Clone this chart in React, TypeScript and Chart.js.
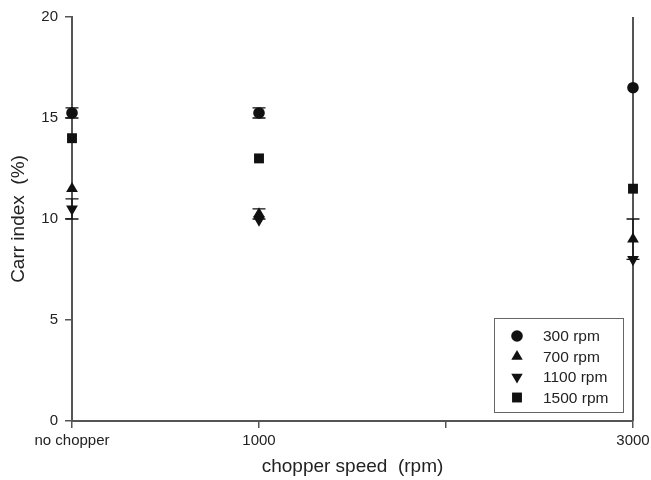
import React, { useEffect, useRef } from 'react';
import { Chart, registerables } from 'chart.js';
Chart.register(...registerables);

// x positions: chopper speed (rpm), 0 = "no chopper"
const chopperSpeeds = [0, 1000, 3000];
const xTickValues = [0, 1000, 2000, 3000];
const xTickLabels = ['no chopper', '1000', '', '3000'];
const yTickValues = [0, 5, 10, 15, 20];

const seriesLabels = ['300 rpm', '700 rpm', '1100 rpm', '1500 rpm'];
const carr300 = [15.25, 15.25, 16.5];
const err300 = [0.25, 0.25, 0];
const carr700 = [11.5, 10.25, 9.0];
const err700 = [0, 0.25, 1.0];
const carr1100 = [10.5, 9.95, 8.0];
const err1100 = [0.5, 0, 0];
const carr1500 = [14.0, 13.0, 11.5];
const err1500 = [0, 0, 0];

const FONT = "'Liberation Sans', Arial, sans-serif";
const AXIS = '#555555';
const TEXT = '#222222';
const MARK = '#111111';

const styles = [
  { pointStyle: 'circle', radius: 5.8, rotation: 0 },
  { pointStyle: 'triangle', radius: 6.8, rotation: 0 },
  { pointStyle: 'triangle', radius: 6.8, rotation: 180 },
  { pointStyle: 'rect', radius: 7, rotation: 0 },
];
const seriesValues = [carr300, carr700, carr1100, carr1500];
const seriesErrors = [err300, err700, err1100, err1500];

function drawMarker(ctx: CanvasRenderingContext2D, kind: number, x: number, y: number) {
  ctx.beginPath();
  if (kind === 0) {
    ctx.arc(x, y, 5.8, 0, Math.PI * 2);
  } else if (kind === 3) {
    const s = 7 * Math.SQRT1_2;
    ctx.rect(x - s, y - s, 2 * s, 2 * s);
  } else {
    const r = 6.6;
    const dir = kind === 1 ? -1 : 1;
    ctx.moveTo(x, y + dir * r);
    ctx.lineTo(x + r * Math.sin(Math.PI * 2 / 3), y - dir * r * 0.5);
    ctx.lineTo(x - r * Math.sin(Math.PI * 2 / 3), y - dir * r * 0.5);
    ctx.closePath();
  }
  ctx.fillStyle = MARK;
  ctx.fill();
}

const framePlugin = {
  id: 'frameAndErrors',
  beforeDatasetsDraw(chart: any) {
    const { ctx, chartArea, scales } = chart;
    ctx.save();
    ctx.strokeStyle = AXIS;
    ctx.lineWidth = 2;
    ctx.beginPath();
    ctx.moveTo(chartArea.right, chartArea.top);
    ctx.lineTo(chartArea.right, chartArea.bottom);
    ctx.stroke();
    ctx.strokeStyle = MARK;
    ctx.lineWidth = 1.3;
    seriesValues.forEach((vals, si) => {
      vals.forEach((v, i) => {
        const e = seriesErrors[si][i];
        if (!e) return;
        const x = scales.x.getPixelForValue(chopperSpeeds[i]);
        const yHi = scales.y.getPixelForValue(v + e);
        const yLo = scales.y.getPixelForValue(v - e);
        ctx.beginPath();
        ctx.moveTo(x, yHi);
        ctx.lineTo(x, yLo);
        ctx.moveTo(x - 6.5, yHi);
        ctx.lineTo(x + 6.5, yHi);
        ctx.moveTo(x - 6.5, yLo);
        ctx.lineTo(x + 6.5, yLo);
        ctx.stroke();
      });
    });
    ctx.restore();
  },
  afterDatasetsDraw(chart: any) {
    const { ctx, chartArea } = chart;
    const w = 129;
    const h = 94;
    const left = chartArea.right - 10 - w;
    const top = chartArea.bottom - 9 - h;
    ctx.save();
    ctx.fillStyle = '#ffffff';
    ctx.fillRect(left, top, w, h);
    ctx.strokeStyle = '#666666';
    ctx.lineWidth = 1;
    ctx.strokeRect(left + 0.5, top + 0.5, w, h);
    ctx.font = `15.5px ${FONT}`;
    ctx.textBaseline = 'middle';
    ctx.textAlign = 'left';
    seriesLabels.forEach((lab, i) => {
      const y = top + 18 + i * 20.5;
      drawMarker(ctx, i, left + 23, y);
      ctx.fillStyle = TEXT;
      ctx.fillText(lab, left + 49, y + 1);
    });
    ctx.restore();
  },
};

export default function App() {
  const ref = useRef<HTMLCanvasElement>(null);
  useEffect(() => {
    if (!ref.current) return;
    const chart = new Chart(ref.current, {
      type: 'scatter',
      data: {
        datasets: seriesLabels.map((lab, si) => ({
          label: lab,
          data: chopperSpeeds.map((x, i) => ({ x, y: seriesValues[si][i] })),
          pointStyle: styles[si].pointStyle as any,
          pointRadius: styles[si].radius,
          pointRotation: styles[si].rotation,
          backgroundColor: MARK,
          borderColor: MARK,
          borderWidth: 0,
          clip: false as any,
        })),
      },
      plugins: [framePlugin],
      options: {
        responsive: false,
        animation: false,
        layout: { padding: { top: 17, right: 18, left: 0, bottom: 0 } },
        plugins: { legend: { display: false }, tooltip: { enabled: false } },
        scales: {
          x: {
            type: 'linear',
            min: 0,
            max: 3000,
            afterBuildTicks: (scale: any) => {
              scale.ticks = xTickValues.map((v) => ({ value: v }));
            },
            afterFit: (scale: any) => {
              scale.height = 59;
              scale.paddingLeft = 0;
              scale.paddingRight = 0;
            },
            ticks: {
              autoSkip: false,
              maxRotation: 0,
              padding: 4,
              color: TEXT,
              font: { family: FONT, size: 15 },
              callback: (v: any) => {
                const idx = xTickValues.indexOf(Number(v));
                return idx >= 0 ? xTickLabels[idx] : '';
              },
            },
            grid: { drawOnChartArea: false, drawTicks: true, tickLength: 7, color: AXIS, lineWidth: 1.5 },
            border: { display: true, color: AXIS, width: 2 },
            title: {
              display: true,
              text: 'chopper speed  (rpm)',
              color: TEXT,
              font: { family: FONT, size: 19 },
              padding: { top: 0, bottom: 2 },
            },
          },
          y: {
            type: 'linear',
            min: 0,
            max: 20,
            afterBuildTicks: (scale: any) => {
              scale.ticks = yTickValues.map((v) => ({ value: v }));
            },
            afterFit: (scale: any) => {
              scale.width = 72;
              scale.paddingTop = 0;
              scale.paddingBottom = 0;
            },
            ticks: {
              padding: 7,
              color: TEXT,
              font: { family: FONT, size: 15 },
            },
            grid: { drawOnChartArea: false, drawTicks: true, tickLength: 7, color: AXIS, lineWidth: 1.5 },
            border: { display: true, color: AXIS, width: 2 },
            title: {
              display: true,
              text: 'Carr index  (%)',
              color: TEXT,
              font: { family: FONT, size: 19 },
              padding: { top: 7, bottom: 0 },
            },
          },
        },
      },
    });
    return () => chart.destroy();
  }, []);
  return (
    <div style={{ position: 'fixed', left: 0, top: 0, width: 651, height: 480, background: '#ffffff' }}>
      <canvas ref={ref} width={651} height={480} style={{ width: 651, height: 480 }} />
    </div>
  );
}
